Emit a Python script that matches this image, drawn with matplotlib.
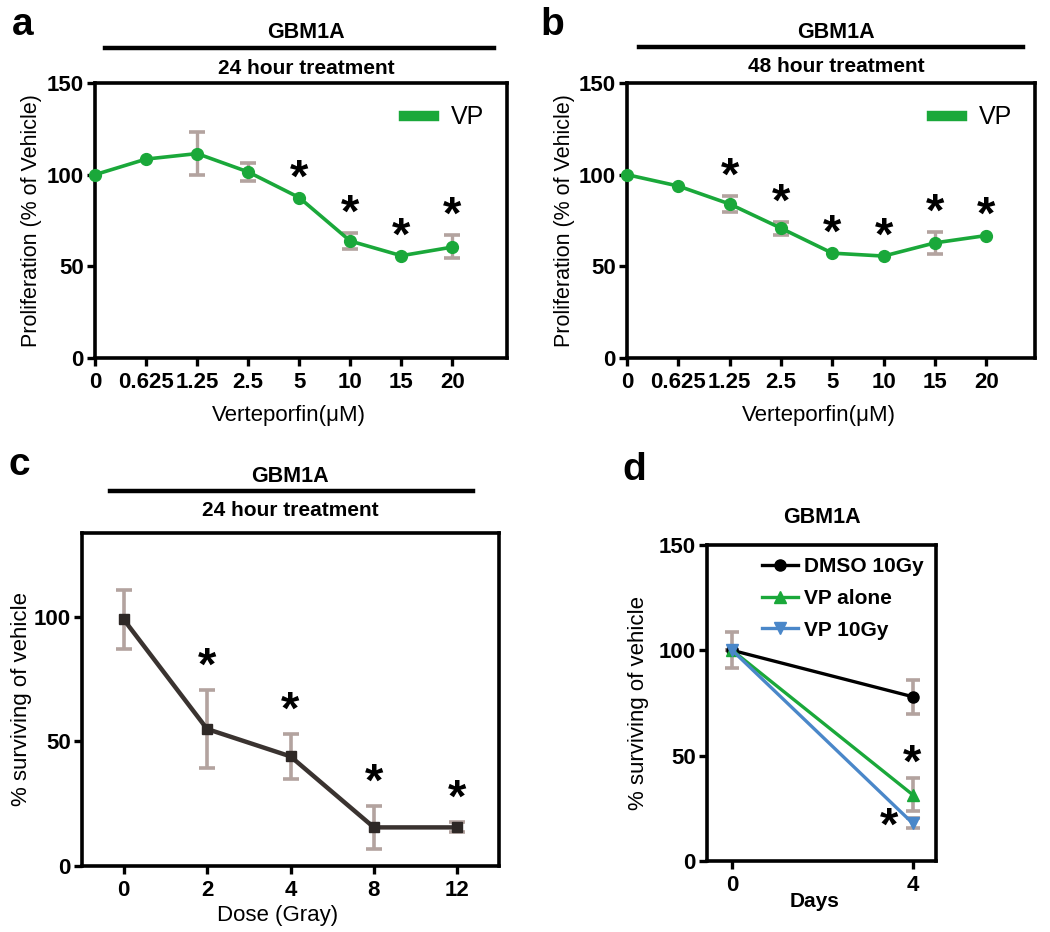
"""Verteporfin / radiation response panels for GBM1A (a-d)."""

import matplotlib

matplotlib.use("Agg")
import matplotlib.pyplot as plt
from matplotlib.lines import Line2D
import numpy as np

plt.rcParams["font.family"] = ["Liberation Sans", "DejaVu Sans"]

# panel a / b: proliferation vs verteporfin dose
vp_doses = ["0", "0.625", "1.25", "2.5", "5", "10", "15", "20"]
prolif_24h = [100, 108.5, 111.5, 101.5, 87.5, 63.8, 55.8, 60.5]
prolif_24h_lo = [0, 0, 11.5, 5.0, 0, 4.5, 0, 6.0]
prolif_24h_hi = [0, 0, 11.5, 5.0, 0, 4.5, 0, 6.5]
sig_24h = [False, False, False, False, True, True, True, True]

prolif_48h = [100, 93.8, 84.0, 70.8, 57.2, 55.6, 62.8, 66.8]
prolif_48h_err = [0, 0, 4.5, 3.5, 0, 0, 6.0, 0]
sig_48h = [False, False, True, True, True, True, True, True]

# panel c: survival vs radiation dose
gray_doses = ["0", "2", "4", "8", "12"]
surv_dose = [99.0, 55.0, 44.0, 15.5, 15.5]
surv_dose_err = [12.0, 15.5, 9.0, 8.5, 2.0]
sig_dose = [False, True, True, True, True]

# panel d: survival over days
days = ["0", "4"]
dmso_10gy = [100, 78.0]
dmso_10gy_err = [8.5, 8.0]
vp_alone = [100, 31.5]
vp_alone_err = [0, 8.0]
vp_10gy = [100, 18.0]
vp_10gy_err = [0, 2.5]

W, H = 1050, 932
GREEN = "#1aa83a"
ERR = "#b3a39f"


def rect(l, t, r, b):
    return [l / W, 1 - b / H, (r - l) / W, (b - t) / H]


def fx(x):
    return x / W


def fy(y):
    return 1 - y / H


def style_axes(ax, lw=2.6):
    for s in ax.spines.values():
        s.set_linewidth(lw)
        s.set_color("black")
    ax.tick_params(axis="both", which="major", direction="out", length=6, width=2.4,
                   labelsize=16)
    ax.tick_params(axis="x", pad=4)
    ax.tick_params(axis="y", pad=2)
    for lab in ax.get_xticklabels() + ax.get_yticklabels():
        lab.set_fontweight("bold")


def header(x0, x1, y_line, cx, line_label, sub_label):
    fig.text(fx(cx), fy(y_line - 15), line_label, ha="center", va="center",
             fontsize=15.5, fontweight="bold")
    fig.add_artist(Line2D([fx(x0), fx(x1)], [fy(y_line), fy(y_line)], color="black",
                          linewidth=3.2, transform=fig.transFigure))
    fig.text(fx(cx), fy(y_line + 20), sub_label, ha="center", va="center",
             fontsize=15, fontweight="bold")


def stars(ax, xs, tops, flags, offset, **kw):
    for x, top, flag in zip(xs, tops, flags):
        if flag:
            ax.text(x, top + offset, "*", ha="center", va="center", fontsize=34,
                    fontweight="bold", **kw)


fig = plt.figure(figsize=(W / 100, H / 100), dpi=100)

# ---- panels a and b
for rect_px, xmax, vals, lo, hi, sig, lab, lab_x, hdr, sub in [
    ((95, 83, 507, 358), 8.07, prolif_24h, prolif_24h_lo, prolif_24h_hi, sig_24h, "a", 12,
     (105, 494, 48, 306), "24 hour treatment"),
    ((627, 83, 1035, 358), 7.95, prolif_48h, prolif_48h_err, prolif_48h_err, sig_48h, "b", 540,
     (639, 1023, 47, 836), "48 hour treatment"),
]:
    ax = fig.add_axes(rect(*rect_px))
    x = np.arange(len(vp_doses))
    vals = np.asarray(vals)
    lo = np.asarray(lo)
    hi = np.asarray(hi)
    has_err = (lo + hi) > 0
    ax.errorbar(x[has_err], vals[has_err], yerr=[lo[has_err], hi[has_err]], fmt="none",
                ecolor=ERR, elinewidth=2.4, capsize=6, capthick=2.6, zorder=2)
    ax.plot(x, vals, color=GREEN, linewidth=2.6, marker="o", markersize=8.5, zorder=3,
            clip_on=False)
    ax.plot([], [], color=GREEN, linewidth=7.5, label="VP")
    stars(ax, x, vals + hi, sig, 10)
    ax.set_xlim(0, xmax)
    ax.set_ylim(0, 150)
    ax.set_xticks(x)
    ax.set_xticklabels(vp_doses)
    ax.set_yticks([0, 50, 100, 150])
    ax.set_xlabel("Verteporfin(\u03bcM)", fontsize=16)
    ax.set_ylabel("Proliferation (% of Vehicle)", fontsize=15.5)
    ax.xaxis.set_label_coords(0.47, -0.17)
    ax.yaxis.set_label_coords(-0.128, 0.5)
    style_axes(ax)
    ax.legend(loc="upper right", frameon=False, fontsize=18, handlelength=1.2,
              handletextpad=0.7, borderaxespad=0.5)
    fig.text(fx(lab_x), fy(25), lab, fontsize=28, fontweight="bold",
             ha="left", va="center")
    x0, x1, yl, cx = hdr
    header(x0, x1, yl, cx, "GBM1A", sub)

# ---- panel c
ax = fig.add_axes(rect(82, 533, 499, 866))
x = np.arange(len(gray_doses))
surv = np.asarray(surv_dose)
serr = np.asarray(surv_dose_err)
ax.errorbar(x, surv, yerr=serr, fmt="none", ecolor=ERR, elinewidth=2.6, capsize=6,
            capthick=2.6, zorder=2)
ax.plot(x, surv, color="#3a3330", linewidth=3.2, marker="s", markersize=7,
        markerfacecolor="#2e2826", markeredgecolor="#2e2826", zorder=3)
stars(ax, x, surv + serr, sig_dose, 9)
ax.set_xlim(-0.5, 4.5)
ax.set_ylim(0, 133.7)
ax.set_xticks(x)
ax.set_xticklabels(gray_doses)
ax.set_yticks([0, 50, 100])
ax.set_xlabel("Dose (Gray)", fontsize=16)
ax.set_ylabel("% surviving of vehicle", fontsize=16)
ax.xaxis.set_label_coords(0.47, -0.118)
ax.yaxis.set_label_coords(-0.12, 0.5)
style_axes(ax)
fig.text(fx(8), fy(465), "c", fontsize=28, fontweight="bold", ha="left", va="center")
header(110, 473, 491, 290, "GBM1A", "24 hour treatment")

# ---- panel d
ax = fig.add_axes(rect(707, 545, 936, 861))
x = np.arange(len(days))
ax.errorbar(x, dmso_10gy, yerr=dmso_10gy_err, fmt="none", ecolor=ERR, elinewidth=2.6,
            capsize=5, capthick=2.6, zorder=2)
ax.errorbar(x, vp_alone, yerr=vp_alone_err, fmt="none", ecolor=ERR, elinewidth=2.6,
            capsize=5, capthick=2.6, zorder=2)
ax.errorbar(x, vp_10gy, yerr=vp_10gy_err, fmt="none", ecolor=ERR, elinewidth=2.6,
            capsize=5, capthick=2.6, zorder=2)
ax.plot(x, dmso_10gy, color="black", linewidth=2.4, marker="o", markersize=8,
        label="DMSO 10Gy", zorder=3)
ax.plot(x, vp_alone, color=GREEN, linewidth=2.4, marker="^", markersize=8,
        label="VP alone", zorder=4)
ax.plot(x, vp_10gy, color="#4a87c9", linewidth=2.4, marker="v", markersize=8,
        label="VP 10Gy", zorder=5)
ax.text(x[1], vp_alone[1] + vp_alone_err[1] + 6, "*", ha="center", va="center",
        fontsize=34, fontweight="bold")
ax.text(x[1] - 0.13, vp_10gy[1] - 2, "*", ha="center", va="center",
        fontsize=34, fontweight="bold")
ax.set_xlim(-0.14, 1.13)
ax.set_ylim(0, 150)
ax.set_xticks(x)
ax.set_xticklabels(days)
ax.set_yticks([0, 50, 100, 150])
ax.set_xlabel("Days", fontsize=15, fontweight="bold")
ax.set_ylabel("% surviving of vehicle", fontsize=16)
ax.xaxis.set_label_coords(0.47, -0.098)
ax.yaxis.set_label_coords(-0.255, 0.5)
ax.set_title("GBM1A", fontsize=15.5, fontweight="bold", pad=16)
style_axes(ax)
ax.legend(loc="upper right", frameon=False, prop={"size": 15, "weight": "bold"},
          handlelength=1.7, handletextpad=0.3, labelspacing=0.6,
          borderaxespad=0.2, bbox_to_anchor=(1.0, 1.0))
fig.text(fx(622), fy(470), "d", fontsize=28, fontweight="bold", ha="left", va="center")

fig.savefig("out.png", dpi=100)
plt.close(fig)
